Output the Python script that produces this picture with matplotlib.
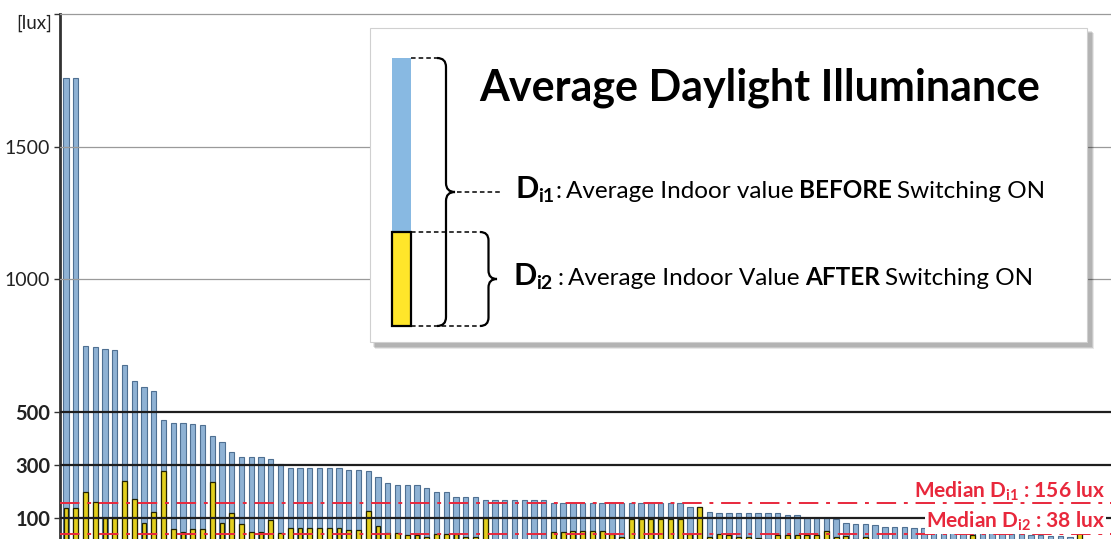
import numpy as np
import matplotlib
matplotlib.use("Agg")
import matplotlib.pyplot as plt
from matplotlib.path import Path
from matplotlib.patches import PathPatch, Rectangle

plt.rcParams['font.family'] = ['Lato', 'DejaVu Sans']
plt.rcParams['mathtext.fontset'] = 'custom'
plt.rcParams['mathtext.bf'] = 'Lato:bold'
plt.rcParams['mathtext.rm'] = 'Lato'

# ---------------- data (lux) ----------------
d1_before = [1760, 1760, 748, 745, 737, 735, 677, 617, 595, 579,
             469, 457, 457, 453, 449, 410, 388, 349, 329, 329,
             329, 321, 303, 287, 287, 287, 287, 287, 287, 281,
             281, 277, 256, 233, 223, 223, 223, 212, 199, 199,
             179, 179, 179, 168, 168, 168, 168, 168, 168, 168,
             158, 158, 158, 158, 158, 158, 156, 156, 156, 156,
             156, 156, 156, 156, 142, 143, 124, 119, 119, 119,
             117, 117, 117, 117, 112, 110, 100, 100, 100, 95,
             80, 77, 77, 72, 66, 65, 65, 64, 63, 62,
             61, 60, 50, 45, 43, 42, 42, 41, 40, 36,
             34, 32, 31, 30, 29]
d2_after = [139, 139, 199, 161, 99, 99, 240, 170, 80, 121,
            278, 57, 48, 58, 58, 237, 80, 118, 76, 48,
            48, 92, 45, 61, 61, 61, 61, 61, 61, 55,
            55, 126, 71, 45, 45, 35, 35, 29, 40, 40,
            40, 30, 30, 101, 18, 18, 18, 18, 18, 18,
            46, 48, 52, 52, 52, 52, 40, 29, 96, 96,
            96, 96, 96, 96, 40, 143, 29, 40, 35, 30,
            29, 25, 22, 35, 35, 35, 35, 35, 50, 27,
            32, 22, 30, 18, 18, 18, 18, 18, 18, 18,
            18, 18, 18, 36, 18, 18, 18, 18, 18, 18,
            18, 18, 18, 18, 44]
median_d1 = 156
median_d2 = 38
bold_ticks = [100, 300, 500]
light_ticks = [1000, 1500, 2000]
tick_values = [100, 300, 500, 1000, 1500]
tick_labels = ['100', '300', '500', '1000', '1500']

W, H = 1111, 539
fig = plt.figure(figsize=(W / 100, H / 100), dpi=100)
ax = fig.add_axes([60 / W, 0, (W - 60) / W, 1])

x = np.arange(len(d1_before))
ax.bar(x, d1_before, width=0.55, color='#8fb2d4', edgecolor='#4f7092', linewidth=0.8, zorder=2)
ax.bar(x, d2_after, width=0.5, color='#e3cf1e', edgecolor='#222200', linewidth=0.9, zorder=3)

ax.set_xlim(-0.62, 107.2)
ax.set_ylim(20.7, 2052.8)

for v in light_ticks:
    ax.axhline(v, color='#9a9a9a', lw=0.9, zorder=4)
for v in bold_ticks:
    ax.axhline(v, color='#1e1e1e', lw=1.6, zorder=4)

red = '#e8283c'
ax.axhline(median_d1, color=red, lw=1.4, dashes=(10, 4, 2, 4), zorder=5)
ax.axhline(median_d2, color=red, lw=1.4, dashes=(10, 4, 2, 4), zorder=5)

ax.set_yticks(tick_values + [2000])
ax.set_yticklabels(tick_labels + [''])
for lab, v in zip(ax.get_yticklabels(), tick_values + [2000]):
    if v in bold_ticks:
        lab.set_fontweight('bold')
        lab.set_fontsize(14.5)
    else:
        lab.set_fontsize(14)
ax.tick_params(axis='y', length=4, width=1, color='#333333', pad=3, labelcolor='#222222')
ax.set_xticks([])
for s in ['top', 'right', 'bottom']:
    ax.spines[s].set_visible(False)
ax.spines['left'].set_color('#333333')
ax.spines['left'].set_linewidth(2)
ax.spines['left'].set_bounds(20.7, 2000)

# ---------------- overlay in pixel coordinates ----------------
ov = fig.add_axes([0, 0, 1, 1])
ov.set_xlim(0, W)
ov.set_ylim(H, 0)
ov.axis('off')

ov.text(52, 23, '[lux]', fontsize=13.5, ha='right', va='center', color='#222222')

# legend box with soft shadow
bx0, by0, bx1, by1 = 370, 28, 1087, 342
for i, a in enumerate([0.04, 0.05, 0.06, 0.08, 0.10]):
    off = 7 - i
    ov.add_patch(Rectangle((bx0 + off - 2 + i * 0.6, by0 + off - 2 + i * 0.6),
                           bx1 - bx0 + 2, by1 - by0 + 2, facecolor='black',
                           edgecolor='none', alpha=a, zorder=10))
ov.add_patch(Rectangle((bx0, by0), bx1 - bx0, by1 - by0, facecolor='white',
                       edgecolor='#d0d0d0', lw=0.8, zorder=11))

ov.add_patch(Rectangle((392, 58), 19, 174, facecolor='#88b9e2', edgecolor='none', zorder=12))
ov.add_patch(Rectangle((392, 232), 19, 94, facecolor='#ffe62a', edgecolor='black', lw=1.6, zorder=13))


def brace(x0, y0, y1, w):
    xm = x0 + w * 0.5
    xt = x0 + w
    ym = (y0 + y1) / 2
    r = w * 0.5
    verts = [(x0, y0), (xm, y0), (xm, y0 + r), (xm, ym - r), (xm, ym), (xt, ym),
             (xm, ym), (xm, ym + r), (xm, y1 - r), (xm, y1), (x0, y1)]
    codes = [Path.MOVETO, Path.CURVE3, Path.CURVE3, Path.LINETO, Path.CURVE3, Path.CURVE3,
             Path.CURVE3, Path.CURVE3, Path.LINETO, Path.CURVE3, Path.CURVE3]
    ov.add_patch(PathPatch(Path(verts, codes), facecolor='none', edgecolor='black', lw=1.6, zorder=14))


brace(437, 58, 326, 18)
brace(480, 232, 326, 17)

dash_kw = dict(color='black', lw=1.1, dashes=(3, 2), zorder=13)
ov.plot([411, 437], [58, 58], **dash_kw)
ov.plot([411, 480], [232, 232], **dash_kw)
ov.plot([411, 480], [326, 326], **dash_kw)
ov.plot([457, 502], [192, 192], **dash_kw)

ov.text(760, 101, 'Average Daylight Illuminance', fontsize=31, fontweight='bold',
        ha='center', va='baseline', color='black', zorder=15)

fig.canvas.draw()
renderer = fig.canvas.get_renderer()


def chain(x0, y0, pieces, color='black', z=15):
    xx = x0
    for s, size, weight, dy, gap in pieces:
        xx += gap
        t = ov.text(xx, y0 + dy, s, fontsize=size, fontweight=weight, ha='left',
                    va='baseline', color=color, zorder=z)
        bb = t.get_window_extent(renderer)
        xx += bb.width
    return xx


line1 = [('D', 22, 'bold', 0, 0), ('i1', 14, 'bold', 4, 0), (':', 17.5, 'normal', 0, 1),
         ('Average Indoor value', 17.5, 'normal', 0, 5), ('BEFORE', 17.5, 'bold', 0, 5),
         ('Switching ON', 17.5, 'normal', 0, 5)]
line2 = [('D', 22, 'bold', 0, 0), ('i2', 14, 'bold', 4, 0), (':', 17.5, 'normal', 0, 5),
         ('Average Indoor Value', 17.5, 'normal', 0, 5), ('AFTER', 17.5, 'bold', 0, 5),
         ('Switching ON', 17.5, 'normal', 0, 5)]
chain(515, 198, line1)
chain(513, 285, line2)

# median labels (right aligned)
ov.text(1105, 497, r'Median D$_{\mathbf{i1}}$ : 156 lux', fontsize=15, fontweight='bold',
        ha='right', va='baseline', color=red, zorder=15)
ov.text(1105, 527, r'Median D$_{\mathbf{i2}}$ : 38 lux', fontsize=15, fontweight='bold',
        ha='right', va='baseline', color=red, zorder=15,
        bbox=dict(facecolor='white', edgecolor='none', pad=1.0))

fig.savefig('out.png', dpi=100)
